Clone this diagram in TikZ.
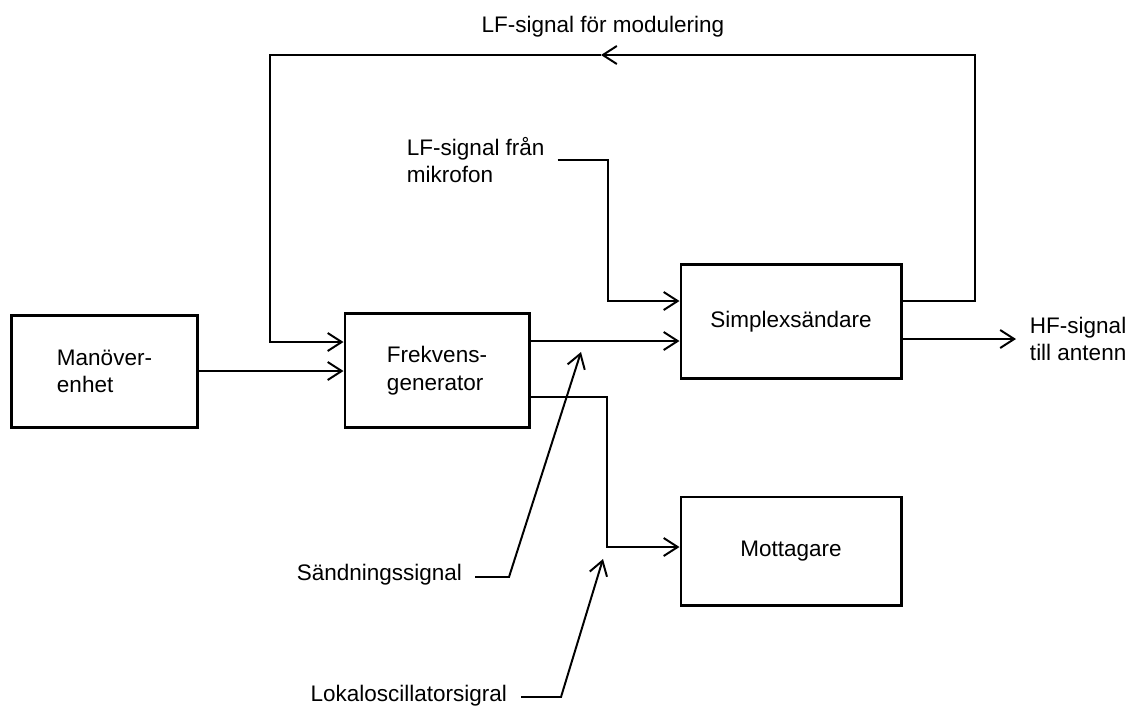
\documentclass[tikz,border=0pt]{standalone}
\usepackage{fontspec}
\setmainfont{Liberation Sans}
\usetikzlibrary{arrows.meta,calc}
\tikzset{>={Straight Barb[length=3.5mm,width=4.5mm]}}
\tikzset{blk/.style={draw,line width=2.1pt,inner sep=0pt,align=left},
  lbl/.style={inner sep=0pt,align=left}}

\begin{document}
\begin{tikzpicture}[x=0.025cm,y=-0.025cm,line width=1.4pt,font=\fontsize{16}{19.5}\selectfont]
\useasboundingbox (0,0) rectangle (1144,706);
\node[blk,minimum width=4.63cm,minimum height=2.78cm] (man) at (104.5,371.5) {Manöver-\\enhet};
\node[blk,minimum width=4.6cm,minimum height=2.83cm] (frek) at (437,370.5) {Frekvens-\\generator};
\node[blk,minimum width=5.5cm,minimum height=2.83cm] (simp) at (791,321.5) {Simplexsändare};
\node[blk,minimum width=5.5cm,minimum height=2.7cm] (mott) at (791,551) {Mottagare};
\node[lbl] (mod) at (603,27) {LF-signal för modulering};
\node[lbl,anchor=west] (mik) at (406,160) {LF-signal från\\mikrofon};
\node[lbl,anchor=west] (hf) at (1029,339) {HF-signal\\till antenn};
\node[lbl,anchor=east] (sand) at (463,575) {Sändningssignal};
\node[lbl,anchor=east] (lok) at (508,696) {Lokaloscillatorsigral};
\coordinate (tr) at (975,55);
\coordinate (tm) at (601,55);
\coordinate (tl) at (270,55);
\coordinate (sx) at (581,352);
\coordinate (lx) at (603,559);
\draw[->] (man.east |- 0,371) -- (frek.west |- 0,371);
\draw[->] (frek.east |- 0,341) -- (simp.west |- 0,341);
\draw[->] (simp.east |- 0,301) -| (tr) -- (tm);
\draw[->] (tm) -- (tl) |- (frek.west |- 0,342);
\draw[->] (mik.east) ++(12,0) -| (608,301) -- (simp.west |- 0,301);
\draw[->] (frek.east |- 0,397) -| (607,547) -- (mott.west |- 0,547);
\draw[->] (simp.east |- hf.west) -- ($(hf.west)+(-13,0)$);
\draw[->] (sand.east) ++(12,2) -- ++(34,0) -- (sx);
\draw[->] (lok.east) ++(13,1) -- ++(40,0) -- (lx);
\end{tikzpicture}
\end{document}
